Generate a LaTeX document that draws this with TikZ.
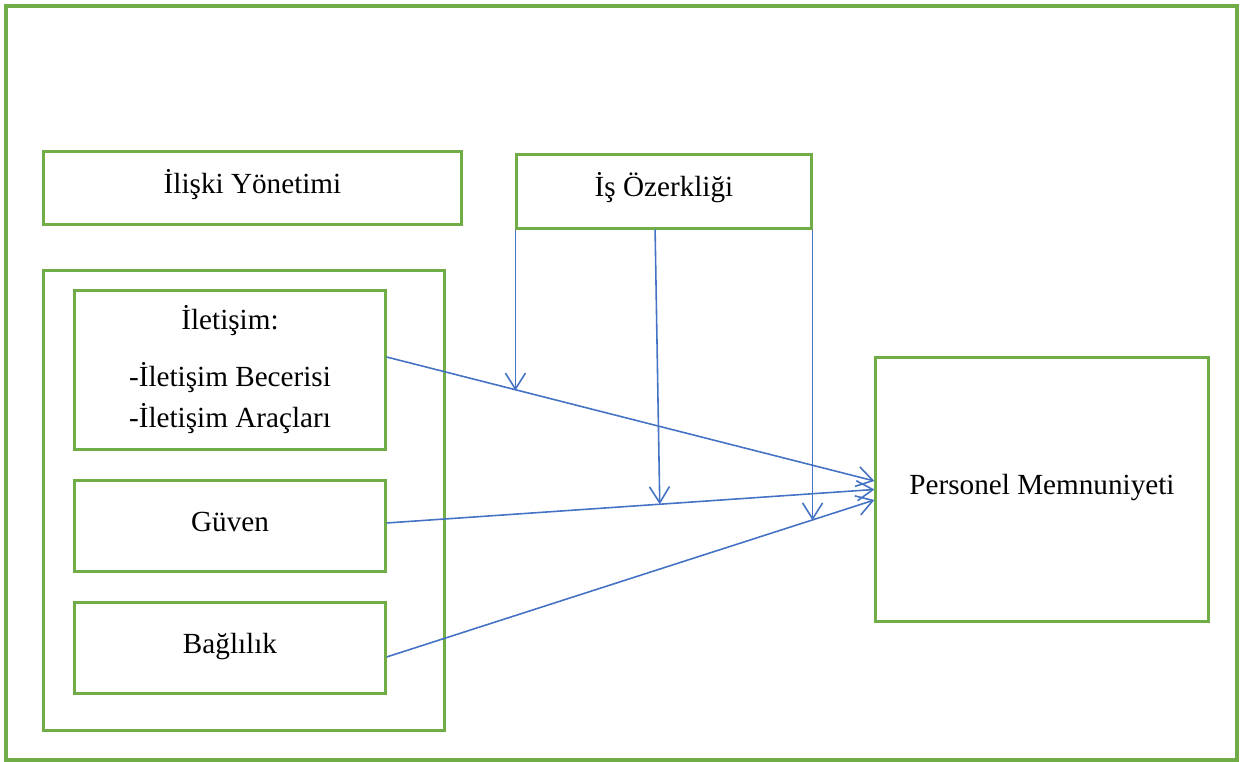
\documentclass[tikz,border=0pt]{standalone}
\usepackage{fontspec}
\setmainfont{Liberation Serif}
\usetikzlibrary{arrows.meta,calc}

\definecolor{yesil}{HTML}{70AD47}
\definecolor{mavi}{HTML}{4472C4}

\tikzset{
  kutu/.style={draw=yesil, line width=0.85pt, inner sep=0pt},
  tek/.style={text height=0.7em, text depth=0.4em},
  ok/.style={draw=mavi, line width=0.45pt, -{Straight Barb[length=1.6mm, width=2mm]}},
  cerceve/.style={draw=yesil, line width=0.9pt}
}

\begin{document}
\begin{tikzpicture}[x=0.01cm, y=-0.01cm, font=\fontsize{8.3}{11.7}\selectfont]
    \useasboundingbox (0,0) rectangle (1242,762);

    % Cerceve
    \draw[cerceve] (6,6) rectangle (1237,760);

    % Kutular
    \node[kutu, tek, minimum width=4.17cm, minimum height=0.72cm] (iy) at (252.5,188) {İlişki Yönetimi};
    \node[kutu, tek, minimum width=2.94cm, minimum height=0.73cm] (oz) at (664,191.5) {İş Özerkliği};
    \node[kutu, minimum width=4.00cm, minimum height=4.59cm] (grup) at (244,500.5) {};
    \node[kutu, align=center, minimum width=3.10cm, minimum height=1.58cm] (ilet) at (230,370)
        {İletişim:\\[4.5pt] -İletişim Becerisi\\ -İletişim Araçları};
    \node[kutu, tek, minimum width=3.10cm, minimum height=0.90cm] (guven) at (230,526) {Güven};
    \node[kutu, tek, minimum width=3.10cm, minimum height=0.90cm] (bag) at (230,648) {Bağlılık};
    \node[kutu, tek, minimum width=3.32cm, minimum height=2.63cm] (pm) at (1042,489.5) {Personel Memnuniyeti};

    % Oklar
    \draw[ok] ([yshift=0.13cm]ilet.east) -- coordinate[pos=0.271] (k1) ([yshift=0.085cm]pm.west);
    \draw[ok] ([yshift=0.03cm]guven.east) -- coordinate[pos=0.56] (k2) (pm.west);
    \draw[ok] ([yshift=-0.09cm]bag.east) -- coordinate[pos=0.87] (k3) ([yshift=-0.105cm]pm.west);

    % Dikey oklar
    \coordinate (ozo) at ($(oz.south west)!0.47!(oz.south east)$);
    \draw[ok] (oz.south west) -- (oz.south west |- k1);
    \draw[ok] (ozo) -- (k2);
    \draw[ok] (oz.south east) -- (oz.south east |- k3);
\end{tikzpicture}
\end{document}
